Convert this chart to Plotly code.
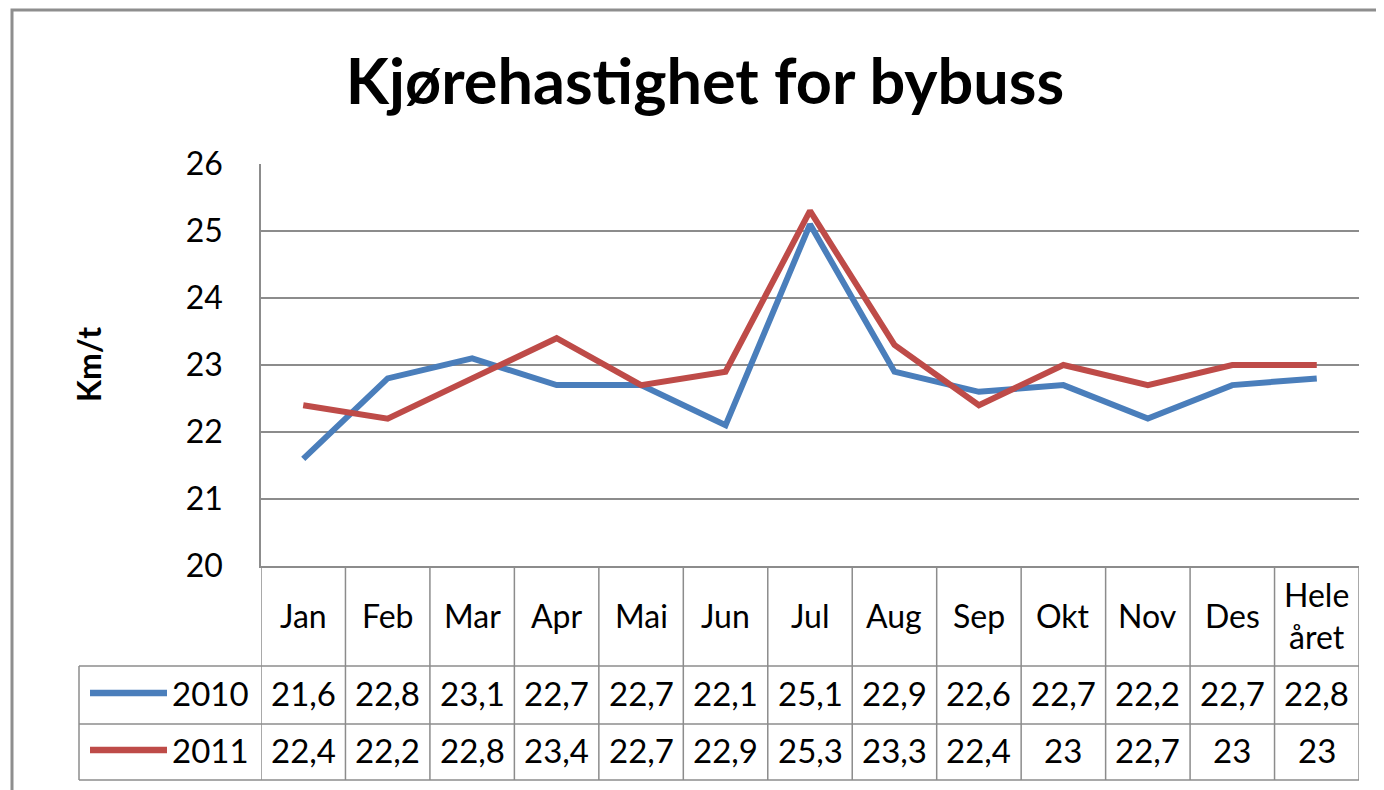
import plotly.graph_objects as go

categories = ["Jan", "Feb", "Mar", "Apr", "Mai", "Jun", "Jul", "Aug", "Sep", "Okt", "Nov", "Des", "Hele<br>året"]
series_names = ["2010", "2011"]
values_2010 = [21.6, 22.8, 23.1, 22.7, 22.7, 22.1, 25.1, 22.9, 22.6, 22.7, 22.2, 22.7, 22.8]
values_2011 = [22.4, 22.2, 22.8, 23.4, 22.7, 22.9, 25.3, 23.3, 22.4, 23.0, 22.7, 23.0, 23.0]
y_ticks = [20, 21, 22, 23, 24, 25, 26]
colors = ["#4A7EBB", "#BE4B48"]

FONT = "Lato, Calibri, 'Liberation Sans', sans-serif"
GRID = "#8C8C8C"

W, H = 1384, 790
OFF = 8  # page body margin
# plot area in screen pixels
PL, PR, PT, PB = 261, 1359, 164, 566
PW = PR - PL
PH = PB - PT
L = PL - OFF
T = PT - OFF
R = W - (PR - OFF)
B = H - (PB - OFF)


def xp(px):
    return (px - PL) / PW


def yp(py):
    return (PB - py) / PH


def fmt(v):
    s = ("%.1f" % v)
    if s.endswith(".0"):
        s = s[:-2]
    return s.replace(".", ",")


fig = go.Figure()
for name, vals, col in zip(series_names, [values_2010, values_2011], colors):
    fig.add_trace(go.Scatter(
        x=list(range(len(categories))), y=vals, mode="lines", name=name,
        line=dict(color=col, width=6), showlegend=False, hoverinfo="skip"))

shapes = []
annotations = []

# outer chart frame
shapes.append(dict(type="rect", xref="paper", yref="paper",
                   x0=xp(12), x1=xp(1420), y0=yp(820), y1=yp(10),
                   line=dict(color="#8E8E8E", width=3), layer="below"))

row_lines = [666, 724, 780]
n = len(categories)
for py in row_lines:
    shapes.append(dict(type="line", xref="paper", yref="paper",
                       x0=xp(79), x1=1, y0=yp(py), y1=yp(py),
                       line=dict(color=GRID, width=1.5)))
for i in range(n + 1):
    shapes.append(dict(type="line", xref="x", yref="paper",
                       x0=i - 0.5, x1=i - 0.5, y0=yp(780), y1=0,
                       line=dict(color=GRID, width=1.5)))
shapes.append(dict(type="line", xref="paper", yref="paper",
                   x0=xp(79), x1=xp(79), y0=yp(780), y1=yp(666),
                   line=dict(color=GRID, width=1.5)))

for i, c in enumerate(categories):
    annotations.append(dict(x=i, y=yp(615), xref="x", yref="paper",
                            text=c, showarrow=False,
                            font=dict(family=FONT, size=32, color="#000"),
                            xanchor="center", yanchor="middle"))

row_centers = [693, 750]
for name, vals, col, yc in zip(series_names, [values_2010, values_2011], colors, row_centers):
    for i, v in enumerate(vals):
        annotations.append(dict(x=i, y=yp(yc), xref="x", yref="paper",
                                text=fmt(v), showarrow=False,
                                font=dict(family=FONT, size=33, color="#000"),
                                xanchor="center", yanchor="middle"))
    annotations.append(dict(x=xp(251), y=yp(yc), xref="paper", yref="paper",
                            text=name, showarrow=False,
                            font=dict(family=FONT, size=33, color="#000"),
                            xanchor="right", yanchor="middle"))
    shapes.append(dict(type="line", xref="paper", yref="paper",
                       x0=xp(90), x1=xp(167), y0=yp(yc), y1=yp(yc),
                       line=dict(color=col, width=6.5)))

annotations.append(dict(x=xp(88), y=yp(365), xref="paper", yref="paper",
                        text="<b>Km/t</b>", showarrow=False, textangle=-90,
                        font=dict(family=FONT, size=32, color="#000"),
                        xanchor="center", yanchor="middle"))

fig.update_layout(
    width=W, height=H,
    margin=dict(l=L, r=R, t=T, b=B),
    paper_bgcolor="white", plot_bgcolor="white",
    title=dict(text="<b>Kjørehastighet for bybuss</b>",
               x=(705 - OFF) / W, xanchor="center", y=1 - (82 - OFF) / H, yanchor="middle",
               font=dict(family=FONT, size=63, color="#000")),
    xaxis=dict(range=[-0.5, n - 0.5], showticklabels=False, showgrid=False,
               zeroline=False, showline=True, linecolor=GRID, linewidth=1.5,
               ticks=""),
    yaxis=dict(range=[20, 26], tickvals=y_ticks, ticktext=[str(t) for t in y_ticks],
               showgrid=True, gridcolor=GRID, gridwidth=1.5, zeroline=False,
               showline=True, linecolor=GRID, linewidth=1.5, ticks="outside",
               ticklen=0, ticklabelstandoff=30,
               tickfont=dict(family=FONT, size=32, color="#000")),
    shapes=shapes,
    annotations=annotations,
)

fig.write_html("out.html")
